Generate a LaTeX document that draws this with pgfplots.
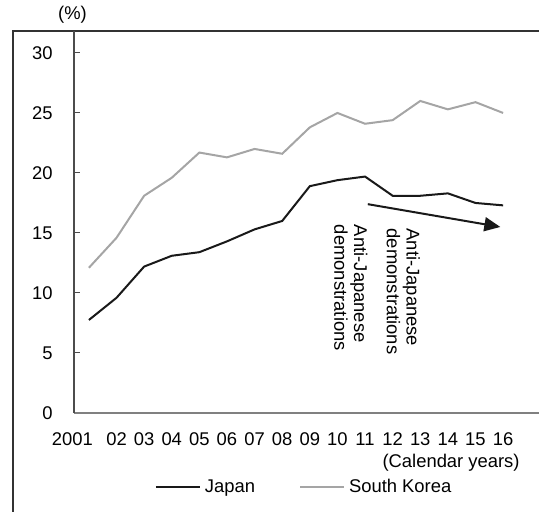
\documentclass[border=0pt]{standalone}
\usepackage{pgfplots}
\pgfplotsset{compat=1.18}
\usepackage{fontspec}
\setmainfont{Liberation Sans}
\usetikzlibrary{arrows.meta}
\definecolor{korea}{RGB}{165,165,165}
\definecolor{japan}{RGB}{25,25,25}
\newcommand{\chartfont}{\fontsize{9.2}{9.8}\selectfont}
\begin{document}
\chartfont
\begin{tikzpicture}
\useasboundingbox (-37pt,-49.5pt) rectangle (232.5pt,206.5pt);
\draw[black!80, line width=0.6pt] (-30.5pt,-49.5pt) -- (-30.5pt,191pt) -- (232.5pt,191pt);
\begin{axis}[
  at={(0pt,0pt)}, anchor=south west,
  scale only axis, width=232.5pt, height=191pt,
  xmin=2000.46, xmax=2017.3, ymin=0, ymax=31.83,
  axis x line*=bottom, axis y line*=left,
  x axis line style={draw=black!50, line width=0.8pt, -},
  y axis line style={draw=black!70, line width=0.6pt, -},
  xtick={2002,...,2016},
  xticklabels={02,03,04,05,06,07,08,09,10,11,12,13,14,15,16},
  extra x ticks={2001}, extra x tick labels={2001},
  extra x tick style={xticklabel style={xshift=-8.25pt}},
  ytick={0,5,...,30},
  major x tick style={draw=none},
  major y tick style={black!70, line width=0.5pt},
  tick align=inside, major tick length=3pt,
  xticklabel style={yshift=-6.5pt},
  yticklabel style={xshift=-7.4pt},
  /pgf/number format/assume math mode=true,
  tick label style={font=\chartfont},
  legend columns=2,
  legend style={at={(0.497,-0.194)}, anchor=center, draw=none, fill=none,
    font=\chartfont, inner sep=0pt,
    /tikz/every even column/.append style={column sep=20pt}},
  legend image code/.code={\draw[#1] (0pt,0pt) -- (22pt,0pt);},
  clip=false,
]
\addplot[japan, line width=1pt] coordinates {
(2001,7.75) (2002,9.6) (2003,12.2) (2004,13.1) (2005,13.4) (2006,14.3)
(2007,15.3) (2008,16.0) (2009,18.9) (2010,19.4) (2011,19.7) (2012,18.1)
(2013,18.1) (2014,18.3) (2015,17.5) (2016,17.3)};
\addlegendentry{Japan}
\addplot[korea, line width=1pt] coordinates {
(2001,12.1) (2002,14.6) (2003,18.1) (2004,19.6) (2005,21.7) (2006,21.3)
(2007,22.0) (2008,21.6) (2009,23.8) (2010,25.0) (2011,24.1) (2012,24.4)
(2013,26.0) (2014,25.3) (2015,25.9) (2016,25.0)};
\addlegendentry{South Korea}
\draw[japan, line width=1pt, -{Triangle[length=8pt,width=7pt]}] (axis cs:2011.1,17.4) -- (axis cs:2015.9,15.5);
\node[rotate=-90, anchor=north west, align=left, inner sep=0pt] at (axis cs:2011.1,15.7) {Anti-Japanese\\demonstrations};
\node[rotate=-90, anchor=north west, align=left, inner sep=0pt] at (axis cs:2013.0,15.4) {Anti-Japanese\\demonstrations};
\end{axis}
\node at (-0.75pt,199pt) {(\%)};
\node[anchor=east, inner sep=0pt] at (223pt,-25pt) {(Calendar years)};
\end{tikzpicture}
\end{document}
